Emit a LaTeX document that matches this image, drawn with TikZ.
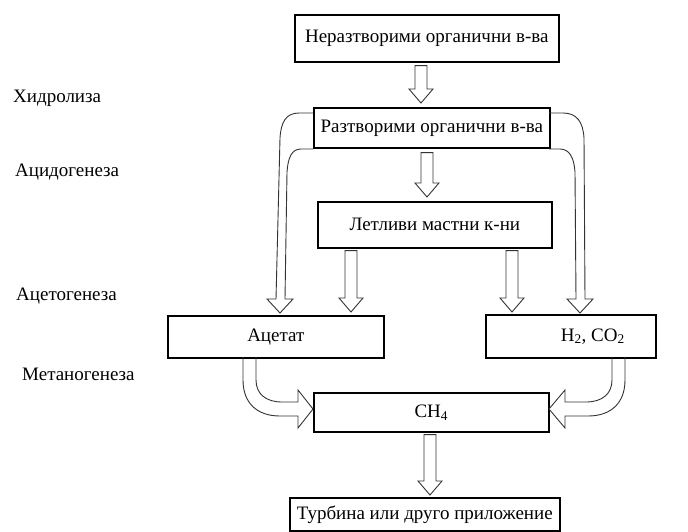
\documentclass[tikz,border=0pt]{standalone}
\usepackage{fontspec}
\setmainfont{Liberation Serif}
\usetikzlibrary{calc}
\newcommand\blockdown[2]{%
  \draw[barrow] let \p1=(#1), \p2=(#2) in
    (\x1-6pt,\y1) -- (\x1-6pt,\y2+14pt) -- (\x1-12pt,\y2+14pt) -- (\x1,\y2)
    -- (\x1+12pt,\y2+14pt) -- (\x1+6pt,\y2+14pt) -- (\x1+6pt,\y1) -- cycle;}
\begin{document}
\begin{tikzpicture}[x=1pt,y=-1pt,
  txt/.style={font=\fontsize{19}{22}\selectfont},
  box/.style={draw=black,line width=1.6pt,inner sep=0pt,anchor=north west,txt},
  lbl/.style={anchor=west,inner sep=0pt,txt},
  barrow/.style={draw=black!80,line width=0.9pt,line join=miter}]
\useasboundingbox[fill=white] (0,0) rectangle (688,531);

% boxes
\node[box,minimum width=264pt,minimum height=47pt] (b1) at (294,14) {Неразтворими органични в-ва};
\node[box,minimum width=236pt,minimum height=40pt] (b2) at (313,107) {Разтворими органични в-ва};
\node[box,minimum width=234pt,minimum height=46pt] (b3) at (317,201) {Летливи мастни к-ни};
\node[box,minimum width=216pt,minimum height=42pt] (ac) at (167,315) {Ацетат};
\node[box,minimum width=170pt,minimum height=43pt] (h2) at (485,314) {\hspace*{44pt}H\textsubscript{2}, CO\textsubscript{2}};
\node[box,minimum width=235pt,minimum height=39pt] (cm) at (313,392) {CH\textsubscript{4}};
\node[box,minimum width=270pt,minimum height=33pt] (tb) at (289,497) {Турбина или друго приложение};

% stage labels
\node[lbl] (l1) at (13,98) {Хидролиза};
\node[lbl] (l2) at (15,172) {Ацидогенеза};
\node[lbl] (l3) at (16,296) {Ацетогенеза};
\node[lbl] (l4) at (22,374) {Метаногенеза};

% x positions of the straight arrows
\coordinate (x1) at (421,0);
\coordinate (x2) at (427,0);
\coordinate (x3) at (351,0);
\coordinate (x4) at (512,0);
\coordinate (x5) at (430,0);
\path (b1.south -| x1) ++(0,3) coordinate (a1s);
\path (b2.north -| x1) ++(0,-4) coordinate (a1e);
\path (b2.south -| x2) ++(0,4) coordinate (a2s);
\path (b3.north -| x2) ++(0,-4) coordinate (a2e);
\path (b3.south -| x3) ++(0,2) coordinate (a3s);
\path (ac.north -| x3) ++(0,-3) coordinate (a3e);
\path (b3.south -| x4) ++(0,2) coordinate (a4s);
\path (h2.north -| x4) ++(0,-2) coordinate (a4e);
\path (cm.south -| x5) ++(0,2) coordinate (a5s);
\path (tb.north -| x5) ++(0,-2) coordinate (a5e);

\blockdown{a1s}{a1e}
\blockdown{a2s}{a2e}
\blockdown{a3s}{a3e}
\blockdown{a4s}{a4e}
\blockdown{a5s}{a5e}

% curved band arrows: b2 -> ac, b2 -> h2
\draw[barrow] (313,113) -- (299,113) .. controls (286,113) and (281,122) .. (280,138)
  -- (276,299) -- (267,299) -- (280,313) -- (293,299) -- (285,299)
  -- (287,172) .. controls (288,157) and (292,149) .. (301,149) -- (313,149);
\draw[barrow] (549,113) -- (563,113) .. controls (577,113) and (583,122) .. (584,138)
  -- (585,299) -- (593,299) -- (580,313) -- (567,299) -- (576,299)
  -- (575,172) .. controls (574,157) and (569,149) .. (560,149) -- (549,149);

% curved band arrows: ac -> cm, h2 -> cm
\draw[barrow] (243,357) -- (243,380) .. controls (243,403) and (257,416) .. (280,416)
  -- (298,416) -- (298,428) -- (313,409) -- (298,390) -- (298,402) -- (282,402)
  .. controls (266,402) and (256,394) .. (256,380) -- (256,357);
\draw[barrow] (625,357) -- (625,380) .. controls (625,403) and (611,416) .. (588,416)
  -- (565,416) -- (565,428) -- (549,409) -- (565,390) -- (565,402) -- (586,402)
  .. controls (602,402) and (612,394) .. (612,380) -- (612,357);
\end{tikzpicture}
\end{document}
